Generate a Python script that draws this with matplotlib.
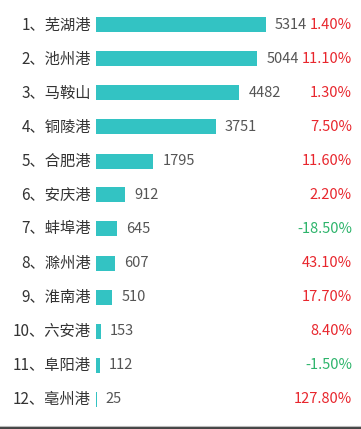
import matplotlib.pyplot as plt

plt.rcParams['font.family'] = ['Noto Sans CJK SC', 'DejaVu Sans']

ranks = [1, 2, 3, 4, 5, 6, 7, 8, 9, 10, 11, 12]
ports = ['芜湖港', '池州港', '马鞍山', '铜陵港', '合肥港', '安庆港',
         '蚌埠港', '滁州港', '淮南港', '六安港', '阜阳港', '亳州港']
values = [5314, 5044, 4482, 3751, 1795, 912, 645, 607, 510, 153, 112, 25]
growth = [1.40, 11.10, 1.30, 7.50, 11.60, 2.20, -18.50, 43.10, 17.70, 8.40, -1.50, 127.80]

W, H = 361, 429
fig = plt.figure(figsize=(W / 100, H / 100), dpi=100)
# bars start at x=96 px, rows every 34 px starting at y=25
ax = fig.add_axes([96 / W, 0, 1 - 96 / W, 1])
ax.set_xlim(0, (W - 96) / 0.032)
n = len(values)
top = 25 / 34 - 0.5
ax.set_ylim(H / 34 - top - 0.5, -top - 0.5)
ax.axis('off')

ys = list(range(n))
ax.barh(ys, values, height=15 / 34, color='#33C3C3', edgecolor='none')

for i in ys:
    ax.annotate(f'{ranks[i]}、{ports[i]}', (0, i), xytext=(-5, 0),
                textcoords='offset pixels', ha='right', va='center',
                fontsize=11, color='#333333')
    ax.annotate(str(values[i]), (values[i], i), xytext=(9, 0),
                textcoords='offset pixels', ha='left', va='center',
                fontsize=10.5, color='#555555')
    g = growth[i]
    col = '#E8262D' if g >= 0 else '#2DB46B'
    ax.annotate(f'{g:.2f}%', (1, i), xycoords=('axes fraction', 'data'),
                xytext=(-9, 0), textcoords='offset pixels', ha='right',
                va='center', fontsize=10.5, color=col)

# bottom separator line
fig.add_artist(plt.Line2D([0, 1], [1.5 / H, 1.5 / H], color='#444444', lw=1.5))
fig.add_artist(plt.Line2D([0, 1], [3.5 / H, 3.5 / H], color='#BBBBBB', lw=0.8))

fig.savefig('out.png', dpi=100)
